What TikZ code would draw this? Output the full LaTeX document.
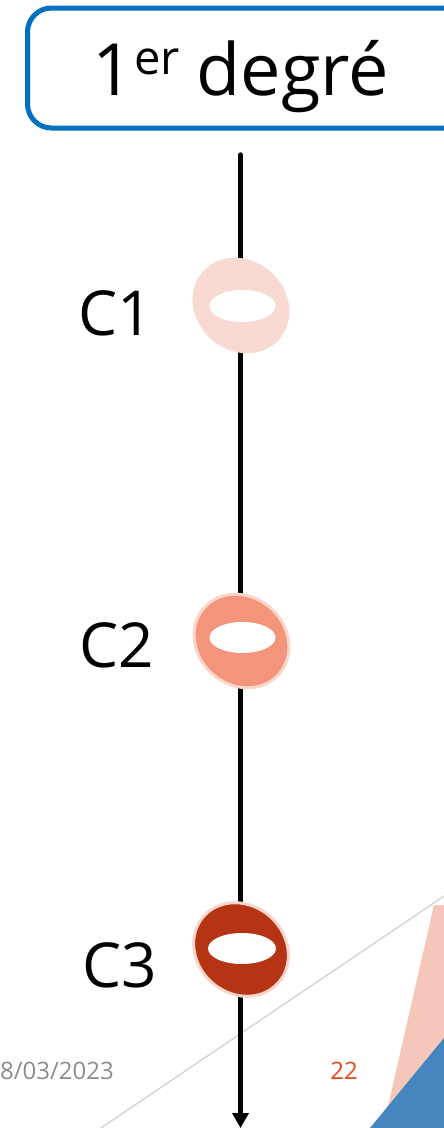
\documentclass[tikz,border=0pt]{standalone}
\usepackage{fontspec}
\setmainfont{Open Sans}
\usetikzlibrary{arrows.meta}
\definecolor{boxblue}{HTML}{0070C0}
\definecolor{pinkA}{HTML}{F8DAD3}
\definecolor{salmon}{HTML}{F2957A}
\definecolor{rust}{HTML}{B43413}
\definecolor{ringedge}{HTML}{F9D5CC}
\definecolor{datagray}{HTML}{8C8C8C}
\definecolor{numred}{HTML}{E8471E}
\definecolor{decopink}{HTML}{F5C6BA}
\definecolor{decoblue}{HTML}{4686BE}
\definecolor{decoline}{HTML}{D2D2D2}
\tikzset{
  titlebox/.style={draw=boxblue, line width=5pt, rounded corners=24pt, fill=white},
  clabel/.style={font=\fontsize{62}{62}\selectfont, inner sep=0pt},
  hole/.style={fill=white},
  axisline/.style={line width=5.5pt, line cap=round, -{Triangle[length=15pt,width=16pt]}},
}
\begin{document}
\begin{tikzpicture}[x=1pt,y=-1pt]
\useasboundingbox (0,0) rectangle (444,1128);
\clip (0,0) rectangle (444,1128);
% decorations
\fill[decopink] (434,905) -- (470,905) -- (470,1128) -- (383,1128) -- cycle;
\draw[decoline, line width=1.3pt] (95,1132) -- (450,892);
\fill[decoblue] (444,1038) -- (470,1010) -- (470,1128) -- (370,1128) -- cycle;
% title box
\draw[titlebox] (27.5,8) rectangle (470,128);
\node[inner sep=0pt, anchor=base west, font=\fontsize{72}{72}\selectfont] (title) at (92,95) {1\hspace{1pt}\raisebox{21pt}{\fontsize{47}{47}\selectfont er}\hspace{-2pt} degré};
% axis
\coordinate (top) at (240.5,155);
\coordinate (bot) at (240.5,1128);
\draw[axisline] (top) -- (bot);
% rings
\fill[pinkA, rotate around={-42:(241,305.5)}] (241,305.5) ellipse (51pt and 45pt);
\fill[hole] (242.5,306) ellipse (33pt and 16pt);
\filldraw[fill=salmon, draw=ringedge, line width=3pt, rotate around={-42:(241.5,641)}] (241.5,641) ellipse (50pt and 44pt);
\fill[hole] (242.5,637.5) ellipse (33pt and 15.5pt);
\filldraw[fill=rust, draw=ringedge, line width=3pt, rotate around={-42:(241,949.5)}] (241,949.5) ellipse (50pt and 44pt);
\fill[hole] (242,948.5) ellipse (34pt and 15.5pt);
% labels
\node[clabel] (c1) at (116,313) {C1};
\node[clabel] (c2) at (117,645) {C2};
\node[clabel] (c3) at (120,965) {C3};
% footer
\node[anchor=west, inner sep=0pt, text=datagray, font=\fontsize{24}{24}\selectfont] (date) at (0,1071) {8/03/2023};
\node[inner sep=0pt, text=numred, font=\fontsize{24}{24}\selectfont] (num) at (344,1071) {22};
\end{tikzpicture}
\end{document}
